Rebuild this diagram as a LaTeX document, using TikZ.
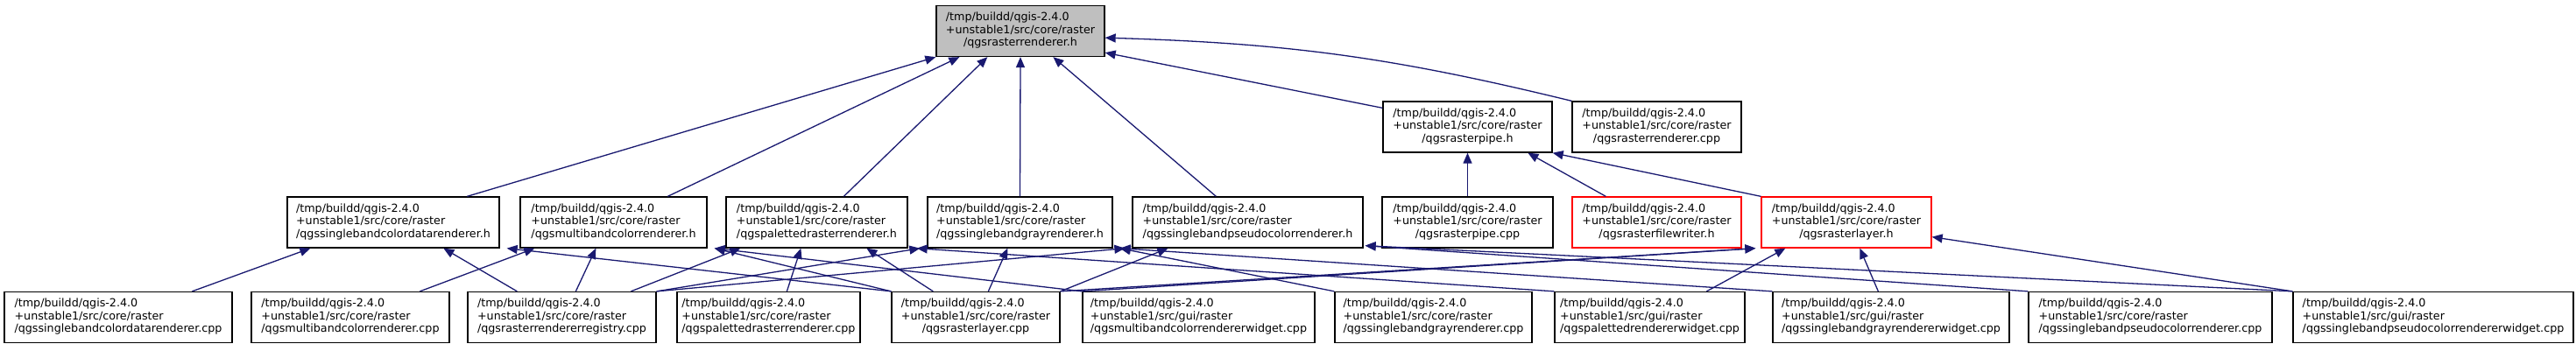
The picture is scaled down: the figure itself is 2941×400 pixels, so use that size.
\documentclass[tikz,border=0pt]{standalone}
\usepackage{fontspec}
\setmainfont{DejaVu Sans}
\usetikzlibrary{arrows.meta}
\definecolor{edgeblue}{HTML}{191970}
\definecolor{rootgray}{HTML}{BFBFBF}
\newcommand\flab[2]{\begin{tabular}{@{}l@{}}/tmp/buildd/qgis-2.4.0\\+unstable1/src/#1/raster\\\multicolumn{1}{@{}c@{}}{#2}\end{tabular}}
\begin{document}
\begin{tikzpicture}[x=1pt,y=-1pt,
  box/.style={draw=black, line width=1.3pt, fill=white, inner sep=0pt, minimum height=58pt,
    font=\fontsize{12.7pt}{14.4pt}\selectfont},
  redbox/.style={box, draw=red},
  rootbox/.style={box, fill=rootgray},
  dep/.style={draw=edgeblue, line width=1.3pt, -{Triangle[length=12pt,width=10pt]}}]
\useasboundingbox (0,0) rectangle (2941,400);
% row 0
\node[rootbox, minimum width=192pt] (root) at (1165,35.5) {\flab{core}{/qgsrasterrenderer.h}};
% row 1
\node[box, minimum width=193pt] (pipeh) at (1675.5,145) {\flab{core}{/qgsrasterpipe.h}};
\node[box, minimum width=193pt] (rrcpp) at (1891.5,145) {\flab{core}{/qgsrasterrenderer.cpp}};
% row 2
\node[box, minimum width=242pt] (A) at (449,254) {\flab{core}{/qgssinglebandcolordatarenderer.h}};
\node[box, minimum width=213pt] (B) at (700.5,254) {\flab{core}{/qgsmultibandcolorrenderer.h}};
\node[box, minimum width=207pt] (C) at (932.5,254) {\flab{core}{/qgspalettedrasterrenderer.h}};
\node[box, minimum width=211pt] (D) at (1164.5,254) {\flab{core}{/qgssinglebandgrayrenderer.h}};
\node[box, minimum width=263pt] (E) at (1424.5,254) {\flab{core}{/qgssinglebandpseudocolorrenderer.h}};
\node[box, minimum width=195pt] (F) at (1675.5,254) {\flab{core}{/qgsrasterpipe.cpp}};
\node[redbox, minimum width=193pt] (G) at (1891.5,254) {\flab{core}{/qgsrasterfilewriter.h}};
\node[redbox, minimum width=194pt] (H) at (2108,254) {\flab{core}{/qgsrasterlayer.h}};
% row 3
\node[box, minimum width=260pt] (a) at (135,362.5) {\flab{core}{/qgssinglebandcolordatarenderer.cpp}};
\node[box, minimum width=226pt] (b) at (400,362.5) {\flab{core}{/qgsmultibandcolorrenderer.cpp}};
\node[box, minimum width=215pt] (c) at (641.5,362.5) {\flab{core}{/qgsrasterrendererregistry.cpp}};
\node[box, minimum width=209pt] (d) at (877.5,362.5) {\flab{core}{/qgspalettedrasterrenderer.cpp}};
\node[box, minimum width=192pt] (e) at (1114,362.5) {\flab{core}{/qgsrasterlayer.cpp}};
\node[box, minimum width=265pt] (f) at (1368.5,362.5) {\flab{gui}{/qgsmultibandcolorrendererwidget.cpp}};
\node[box, minimum width=225pt] (g) at (1636.5,362.5) {\flab{core}{/qgssinglebandgrayrenderer.cpp}};
\node[box, minimum width=217pt] (h) at (1883.5,362.5) {\flab{gui}{/qgspalettedrendererwidget.cpp}};
\node[box, minimum width=270pt] (i) at (2159,362.5) {\flab{gui}{/qgssinglebandgrayrendererwidget.cpp}};
\node[box, minimum width=278pt] (j) at (2455,362.5) {\flab{core}{/qgssinglebandpseudocolorrenderer.cpp}};
\node[box, minimum width=320pt] (k) at (2778,362.5) {\flab{gui}{/qgssinglebandpseudocolorrendererwidget.cpp}};
% edges to root
\draw[dep] ([xshift=206pt]A.north west) -- (root.south west);
\draw[dep] ([xshift=169pt]B.north west) -- ([xshift=27pt]root.south west);
\draw[dep] ([xshift=135pt]C.north west) -- ([xshift=59pt]root.south west);
\draw[dep] (D.north) -- (root.south);
\draw[dep] ([xshift=96pt]E.north west) -- ([xshift=134pt]root.south west);
\draw[dep] ([yshift=-8pt]pipeh.north west) -- ([yshift=5pt]root.south east);
\draw[dep] (rrcpp.north west) to[bend right=6] ([yshift=22pt]root.south east);
% edges to pipe.h
\draw[dep] (F.north) -- (pipeh.south);
\draw[dep] ([xshift=39pt]G.north west) -- ([xshift=166pt]pipeh.south west);
\draw[dep] (H.north west) -- (pipeh.south east);
% row 3 -> row 2
\draw[dep] ([xshift=215pt]a.north west) -- ([xshift=27pt]A.south west);
\draw[dep] ([xshift=57pt]c.north west) -- ([xshift=179pt]A.south west);
\draw[dep] (e.north west) -- ([xshift=8pt]A.south east);
\draw[dep] ([xshift=193pt]b.north west) -- ([xshift=17pt]B.south west);
\draw[dep] ([xshift=124pt]c.north west) -- ([xshift=87pt]B.south west);
\draw[dep] (e.north west) -- ([xshift=8pt]B.south east);
\draw[dep] (f.north west) -- ([xshift=8pt]B.south east);
\draw[dep] ([xshift=187pt]c.north west) -- ([xshift=17pt]C.south west);
\draw[dep] ([xshift=126pt]d.north west) -- ([xshift=86pt]C.south west);
\draw[dep] ([xshift=48pt]e.north west) -- ([xshift=161pt]C.south west);
\draw[dep] (h.north west) -- ([xshift=10pt]C.south east);
\draw[dep] (c.north east) -- ([xshift=-8pt]D.south west);
\draw[dep] ([xshift=111pt]e.north west) -- ([xshift=92pt]D.south west);
\draw[dep] (g.north west) -- ([xshift=8pt]D.south east);
\draw[dep] (i.north west) -- ([xshift=8pt]D.south east);
\draw[dep] (c.north east) -- ([xshift=-8pt]E.south west);
\draw[dep] (e.north east) -- ([xshift=41pt]E.south west);
\draw[dep] (j.north west) -- ([xshift=2pt,yshift=3pt]E.south east);
\draw[dep] (k.north west) -- ([xshift=2pt,yshift=3pt]E.south east);
\draw[dep] (e.north east) -- ([xshift=-6pt]H.south west);
\draw[dep] (f.north west) -- ([xshift=-6pt]H.south west);
\draw[dep] ([xshift=174pt]h.north west) -- ([xshift=28pt]H.south west);
\draw[dep] ([xshift=121pt]i.north west) -- ([xshift=113pt]H.south west);
\draw[dep] (k.north west) -- ([yshift=13pt]H.south east);
\end{tikzpicture}
\end{document}
